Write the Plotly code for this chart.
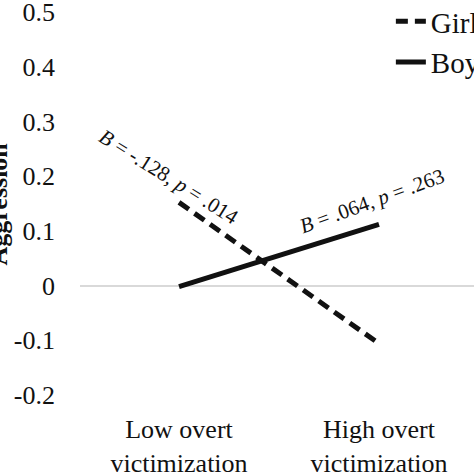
import plotly.graph_objects as go

# values
categories = ["Low overt<br>victimization", "High overt<br>victimization"]
girls = [0.152, -0.106]
boys = [-0.002, 0.112]
y_ticks = [-0.2, -0.1, 0, 0.1, 0.2, 0.3, 0.4, 0.5]
y_labels = ["-0.2", "-0.1", "0", "0.1", "0.2", "0.3", "0.4", "0.5"]

serif = "Liberation Serif, Times New Roman, serif"

fig = go.Figure()

fig.add_trace(go.Scatter(
    x=categories, y=girls, mode="lines", name="Girls",
    line=dict(color="#111111", width=5, dash="12px,7px"),
))
fig.add_trace(go.Scatter(
    x=categories, y=boys, mode="lines", name="Boys",
    line=dict(color="#111111", width=5),
))

# slope labels along the lines
fig.add_annotation(
    x=-0.05, y=0.198, xref="x", yref="y",
    text="<i>B</i> = -.128, <i>p</i> = .014",
    textangle=32, showarrow=False,
    font=dict(family=serif, size=21, color="#111111"),
)
fig.add_annotation(
    x=0.965, y=0.155, xref="x", yref="y",
    text="<i>B</i> = .064, <i>p</i> = .263",
    textangle=-20, showarrow=False,
    font=dict(family=serif, size=21, color="#111111"),
)

# y-axis title, partly off the left edge as in the reference
fig.add_annotation(
    x=-0.2056, y=0.5, xref="paper", yref="paper",
    xanchor="center", yanchor="middle",
    text="<b>Aggression</b>", textangle=-90, showarrow=False,
    font=dict(family=serif, size=26, color="#111111"),
)

fig.update_layout(
    template="none",
    width=474, height=474,
    margin=dict(l=80, r=0, t=12, b=79, autoexpand=False),
    paper_bgcolor="white", plot_bgcolor="white",
    font=dict(family=serif, size=26, color="#111111"),
    showlegend=True,
    legend=dict(
        x=0.789, y=1.042, xanchor="left", yanchor="top",
        bgcolor="rgba(0,0,0,0)", font=dict(size=29),
    ),
)

fig.update_xaxes(
    type="category", range=[-0.495, 1.475],
    showgrid=False, zeroline=False, showline=False, ticks="",
    ticklabelstandoff=16, automargin=False, ticklabeloverflow="allow",
)
fig.update_yaxes(
    range=[-0.2, 0.5], tickvals=y_ticks, ticktext=y_labels,
    showgrid=False, zeroline=True, zerolinecolor="#d9d9d9", zerolinewidth=1.5,
    showline=False, ticks="", ticklabelstandoff=24, automargin=False,
    ticklabeloverflow="allow",
)

# drop the default page margin so the figure sits at the window corner
fig.write_html(
    "out.html",
    config={"displayModeBar": False},
    post_script="document.body.style.margin = '0';",
)
